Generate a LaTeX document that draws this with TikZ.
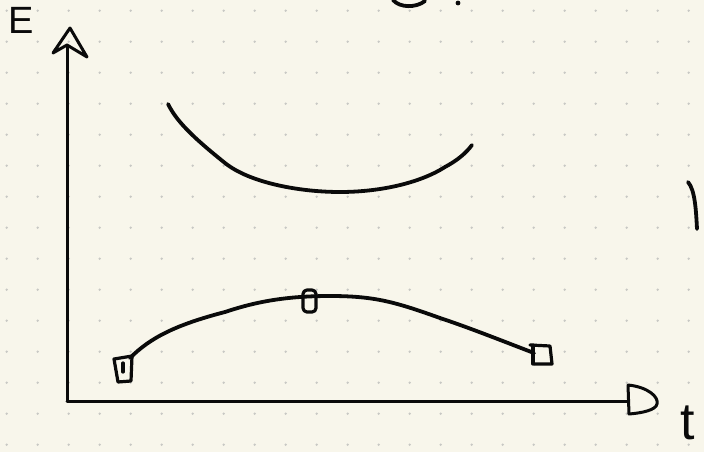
\documentclass[tikz,border=0pt]{standalone}
\usepackage{fontspec}
\setsansfont{Liberation Sans}
\definecolor{paper}{RGB}{248,246,235}
\definecolor{griddot}{RGB}{200,200,196}
\definecolor{ink}{RGB}{10,10,10}
\tikzset{
  axisline/.style={draw=ink, line width=3pt, line cap=round, line join=round},
  curveline/.style={draw=ink, line width=3.8pt, line cap=round, line join=round},
  marker/.style={draw=ink, line width=3.2pt, line cap=round, line join=round},
  axislabel/.style={text=ink, inner sep=0pt, font=\sffamily}
}
\begin{document}
\begin{tikzpicture}[x=1pt,y=-1pt]
\useasboundingbox (0,0) rectangle (704,452);
\fill[paper] (0,0) rectangle (704,452);
\clip (0,0) rectangle (704,452);
% dot grid
\foreach \i in {0,...,22}{
  \foreach \j in {0,...,14}{
    \fill[griddot] ({6.7+31*\i},{10.7+31*\j}) circle (1.3);
  }
}
% axes
\coordinate (O) at (67,401);
\coordinate (ytop) at (67,46);
\coordinate (xend) at (628,401);
\draw[axisline] (O) -- (ytop);
\draw[axisline] (O) -- (xend);
% y arrowhead (hand drawn)
\draw[axisline] (53,53) -- (70,28) -- (87,57) -- (67,45) -- cycle;
% x arrowhead (D shape)
\draw[axisline] (628,385) -- (629,414)
  .. controls (642,413) and (656,410) .. (657,404)
  .. controls (659,397) and (648,387) .. (628,385);
% labels
\node[axislabel, font=\sffamily\fontsize{38}{38}\selectfont] (lblE) at (21,20) {E};
\node[axislabel, font=\sffamily\fontsize{52}{52}\selectfont, anchor=north] (lblt) at (688,406) {t};
% upper curve
\draw[curveline] (168,104) .. controls (176,120) and (190,135) .. (225,163)
  .. controls (250,183) and (300,192) .. (340,192)
  .. controls (380,192) and (420,183) .. (445,167)
  .. controls (458,160) and (466,153) .. (472,145);
% lower curve
\draw[curveline] (130,358) .. controls (150,338) and (175,325) .. (225,312)
  .. controls (255,302) and (285,296) .. (330,296)
  .. controls (375,296) and (395,302) .. (440,318)
  .. controls (470,328) and (500,340) .. (534,353);
% markers
\draw[marker] (114,359) -- (132,356) -- (131,381) -- (118,382) -- cycle;
\draw[marker] (123,363) -- (123,372);
\draw[marker, rounded corners=4pt] (303,290) rectangle (316,312);
\draw[marker] (530,345) -- (550,346) -- (552,364) -- (534,364);
\draw[marker] (533,345) -- (533,364);
% partial stroke at top edge
\draw[curveline] (393,0) .. controls (400,8) and (416,8) .. (425,1);
\fill[ink] (458,3) circle (2.4);
% stroke on right edge
\draw[curveline] (688,182) .. controls (695,190) and (696,210) .. (697,229);
\end{tikzpicture}
\end{document}
